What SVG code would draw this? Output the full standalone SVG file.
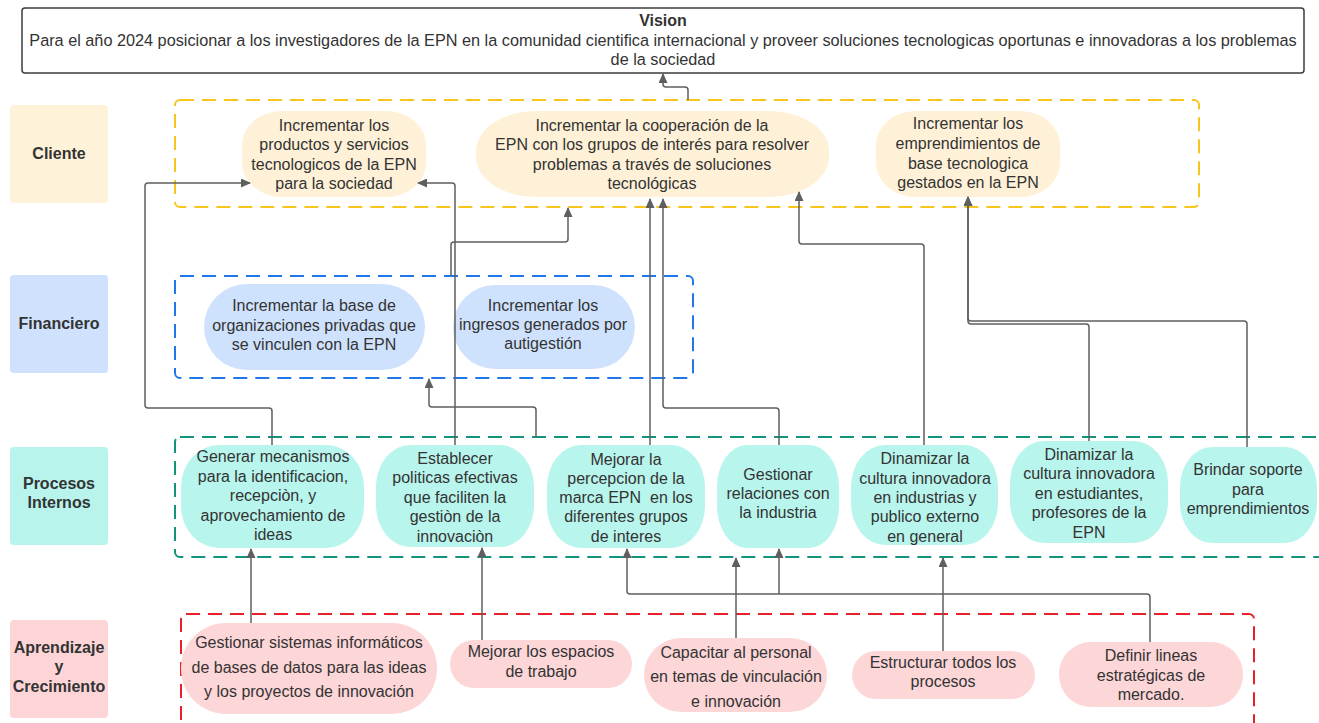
<svg xmlns="http://www.w3.org/2000/svg" width="1319" height="723" viewBox="0 0 1319 723">
<defs>
<marker id="arr" markerUnits="userSpaceOnUse" markerWidth="10" markerHeight="9" refX="9" refY="4.5" orient="auto">
<path d="M0,0 L10,4.5 L0,9 z" fill="#5f5f5f"/>
</marker>
<style>
text{font-family:"Liberation Sans",Arial,sans-serif;font-size:16px;fill:#333333;text-anchor:middle}
.b{font-weight:bold}
.v{font-size:16.25px}
.cont{fill:none;stroke-width:2;stroke-dasharray:14 8}
.conn path{fill:none;stroke:#5f5f5f;stroke-width:1.5;stroke-linejoin:round;marker-end:url(#arr)}
.cn{fill:#fef1d7}
.fn{fill:#cfe2fd}
.pn{fill:#b8f5ec}
.an{fill:#fdd6d8}
</style>
</defs>
<rect width="1319" height="723" fill="#ffffff"/>

<g id="vision">
<rect x="22" y="8" width="1282" height="65" rx="3" fill="#ffffff" stroke="#3d3d3d" stroke-width="1.5"/>
<text x="663" y="26" class="b">Vision</text>
<text x="663" y="46" class="v">Para el año 2024 posicionar a los investigadores de la EPN en la comunidad cientifica internacional y proveer soluciones tecnologicas oportunas e innovadoras a los problemas</text>
<text x="663" y="65" class="v">de la sociedad</text>
</g>

<g id="lane-labels">
<g id="lbl-cliente"><rect x="10" y="105" width="98" height="98" rx="4" fill="#fef2d9"/><text x="59" y="159" class="b">Cliente</text></g>
<g id="lbl-financiero"><rect x="10" y="275" width="98" height="98" rx="4" fill="#cfe1fc"/><text x="59" y="329" class="b">Financiero</text></g>
<g id="lbl-procesos"><rect x="10" y="447" width="98" height="98" rx="4" fill="#b8f4ec"/><text x="59" y="489" class="b">Procesos</text><text x="59" y="508" class="b">Internos</text></g>
<g id="lbl-aprendizaje"><rect x="10" y="620" width="98" height="98" rx="4" fill="#fdd5d7"/><text x="59" y="653" class="b">Aprendizaje</text><text x="59" y="672" class="b">y</text><text x="59" y="692" class="b">Crecimiento</text></g>
</g>

<g id="containers">
<rect class="cont" x="175" y="100" width="1024" height="107" rx="5" stroke="#f8c51c"/>
<rect class="cont" x="175" y="276" width="518" height="102" rx="5" stroke="#1f77ea"/>
<rect class="cont" x="175" y="437" width="1170" height="120" rx="5" stroke="#13937c"/>
<rect class="cont" x="181" y="614" width="1073" height="130" rx="5" stroke="#e8202a"/>
</g>

<g id="c1"><rect class="cn" x="242" y="111" width="184" height="86" rx="40" ry="34"/>
<text x="334"><tspan x="334" y="131">Incrementar los</tspan><tspan x="334" y="150">productos y servicios</tspan><tspan x="334" y="170">tecnologicos de la EPN</tspan><tspan x="334" y="189">para la sociedad</tspan></text></g>
<g id="c2"><rect class="cn" x="476" y="111" width="353" height="86" rx="60" ry="40"/>
<text x="652"><tspan x="652" y="131">Incrementar la cooperación de la</tspan><tspan x="652" y="150">EPN con los grupos de interés para resolver</tspan><tspan x="652" y="170">problemas a través de soluciones</tspan><tspan x="652" y="189">tecnológicas</tspan></text></g>
<g id="c3"><rect class="cn" x="876" y="111" width="184" height="86" rx="40" ry="34"/>
<text x="968"><tspan x="968" y="129">Incrementar los</tspan><tspan x="968" y="149">emprendimientos de</tspan><tspan x="968" y="169">base tecnologica</tspan><tspan x="968" y="188">gestados en la EPN</tspan></text></g>

<g id="f1"><rect class="fn" x="204" y="284" width="221" height="86" rx="43" ry="43"/>
<text x="314"><tspan x="314" y="311">Incrementar la base de</tspan><tspan x="314" y="331">organizaciones privadas que</tspan><tspan x="314" y="350">se vinculen con la EPN</tspan></text></g>
<g id="f2"><rect class="fn" x="453" y="285" width="182" height="84" rx="42" ry="42"/>
<text x="543"><tspan x="543" y="311">Incrementar los</tspan><tspan x="543" y="330">ingresos generados por</tspan><tspan x="543" y="349">autigestión</tspan></text></g>

<g id="p1"><rect class="pn" x="181" y="445" width="183" height="103" rx="38" ry="42"/>
<text x="273"><tspan x="273" y="462">Generar mecanismos</tspan><tspan x="273" y="482">para la identificacion,</tspan><tspan x="273" y="501">recepciòn, y</tspan><tspan x="273" y="521">aprovechamiento de</tspan><tspan x="273" y="540">ideas</tspan></text></g>
<g id="p2"><rect class="pn" x="376" y="445" width="158" height="102" rx="34" ry="42"/>
<text x="455"><tspan x="455" y="464">Establecer</tspan><tspan x="455" y="483">politicas efectivas</tspan><tspan x="455" y="503">que faciliten la</tspan><tspan x="455" y="522">gestiòn de la</tspan><tspan x="455" y="542">innovaciòn</tspan></text></g>
<g id="p3"><rect class="pn" x="547" y="445" width="158" height="103" rx="34" ry="42"/>
<text x="626"><tspan x="626" y="465">Mejorar la</tspan><tspan x="626" y="484">percepcion de la</tspan><tspan x="626" y="503" xml:space="preserve">marca EPN  en los</tspan><tspan x="626" y="522">diferentes grupos</tspan><tspan x="626" y="542">de interes</tspan></text></g>
<g id="p4"><rect class="pn" x="717" y="445" width="122" height="103" rx="30" ry="42"/>
<text x="778"><tspan x="778" y="480">Gestionar</tspan><tspan x="778" y="499">relaciones con</tspan><tspan x="778" y="518">la industria</tspan></text></g>
<g id="p5"><rect class="pn" x="851" y="445" width="147" height="100" rx="34" ry="42"/>
<text x="925"><tspan x="925" y="464">Dinamizar la</tspan><tspan x="925" y="484">cultura innovadora</tspan><tspan x="925" y="503">en industrias y</tspan><tspan x="925" y="522">publico externo</tspan><tspan x="925" y="542">en general</tspan></text></g>
<g id="p6"><rect class="pn" x="1010" y="441" width="158" height="102" rx="34" ry="42"/>
<text x="1089"><tspan x="1089" y="460">Dinamizar la</tspan><tspan x="1089" y="479">cultura innovadora</tspan><tspan x="1089" y="499">en estudiantes,</tspan><tspan x="1089" y="518">profesores de la</tspan><tspan x="1089" y="538">EPN</tspan></text></g>
<g id="p7"><rect class="pn" x="1180" y="447" width="137" height="96" rx="32" ry="40"/>
<text x="1248"><tspan x="1248" y="475">Brindar soporte</tspan><tspan x="1248" y="495">para</tspan><tspan x="1248" y="514">emprendimientos</tspan></text></g>

<g id="a1"><rect class="an" x="181" y="623" width="256" height="91" rx="45" ry="45"/>
<text x="309"><tspan x="309" y="648">Gestionar sistemas informáticos</tspan><tspan x="309" y="673">de bases de datos para las ideas</tspan><tspan x="309" y="697">y los proyectos de innovación</tspan></text></g>
<g id="a2"><rect class="an" x="450" y="640" width="182" height="48" rx="24" ry="24"/>
<text x="541"><tspan x="541" y="657">Mejorar los espacios</tspan><tspan x="541" y="677">de trabajo</tspan></text></g>
<g id="a3"><rect class="an" x="644" y="638" width="183" height="74" rx="37" ry="37"/>
<text x="736"><tspan x="736" y="658">Capacitar al personal</tspan><tspan x="736" y="682">en temas de vinculación</tspan><tspan x="736" y="707">e innovación</tspan></text></g>
<g id="a4"><rect class="an" x="852" y="651" width="183" height="48" rx="24" ry="24"/>
<text x="943"><tspan x="943" y="668">Estructurar todos los</tspan><tspan x="943" y="687">procesos</tspan></text></g>
<g id="a5"><rect class="an" x="1059" y="642" width="184" height="65" rx="32" ry="32"/>
<text x="1151"><tspan x="1151" y="661">Definir lineas</tspan><tspan x="1151" y="681">estratégicas de</tspan><tspan x="1151" y="700">mercado.</tspan></text></g>

<g id="connectors" class="conn">
<path d="M688,100 V90 Q688,87 685,87 H666 Q663,87 663,84 V74"/>
<path d="M272,445 V411 Q272,408 269,408 H148 Q145,408 145,405 V186 Q145,183 148,183 H250"/>
<path d="M455,445 V186 Q455,183 452,183 H418"/>
<path d="M451,276 V245 Q451,242 454,242 H565 Q568,242 568,239 V208"/>
<path d="M536,437 V410 Q536,407 533,407 H432 Q429,407 429,404 V379"/>
<path d="M650,445 V199"/>
<path d="M779,445 V411 Q779,408 776,408 H666 Q663,408 663,405 V199"/>
<path d="M924,445 V247 Q924,244 921,244 H802 Q799,244 799,241 V192"/>
<path d="M1089,441 V327 Q1089,324 1086,324 H971 Q968,324 968,321 V197"/>
<path d="M1247,447 V324 Q1247,321 1244,321 H971 Q968,321 968,318 V197"/>
<path d="M251,623 V549"/>
<path d="M482,640 V548"/>
<path d="M1150,642 V597 Q1150,594 1147,594 H630 Q627,594 627,591 V549"/>
<path d="M779,594 V549"/>
<path d="M736,638 V558"/>
<path d="M943,651 V558"/>
</g>
</svg>
